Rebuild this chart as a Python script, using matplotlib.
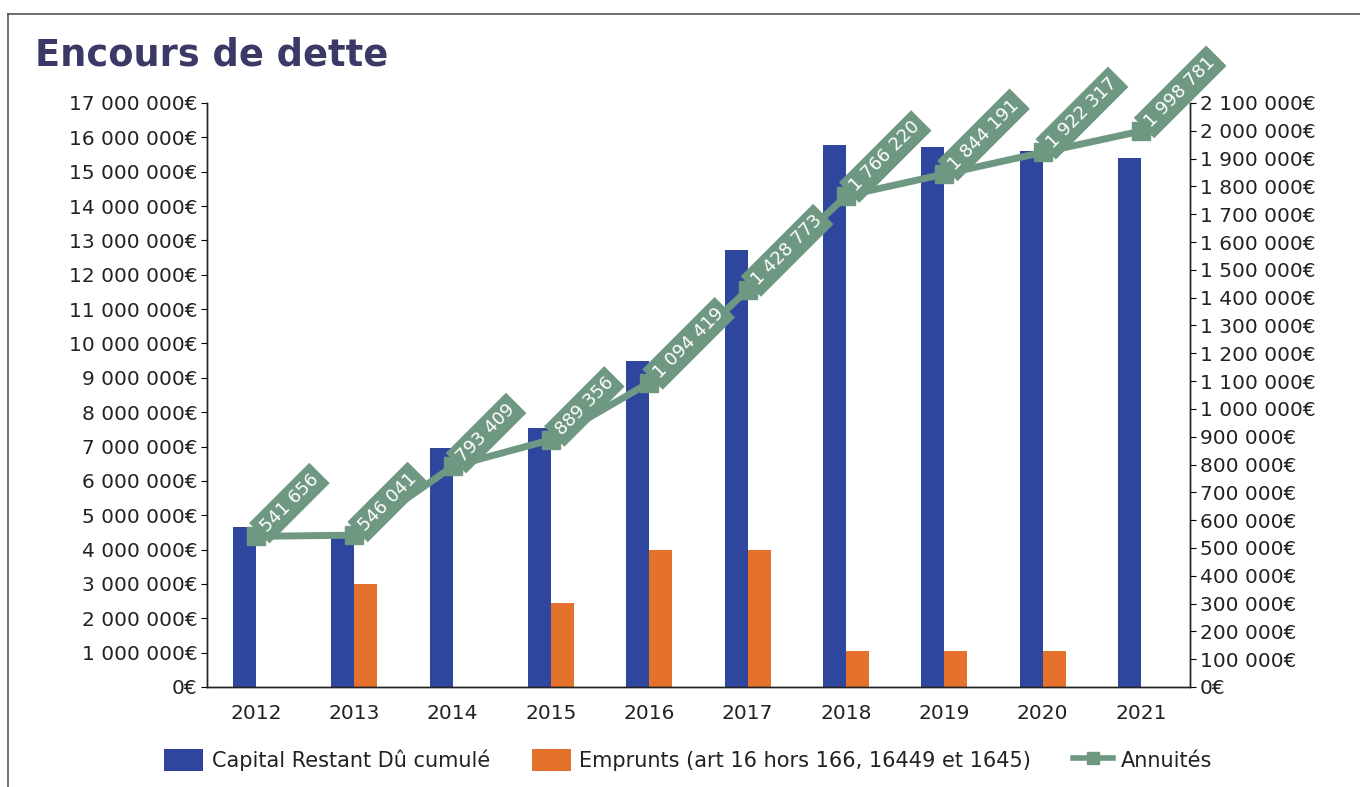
import matplotlib
matplotlib.use("Agg")
import matplotlib.pyplot as plt
import numpy as np
from matplotlib.lines import Line2D
from matplotlib.patches import Patch
from matplotlib.ticker import FixedLocator, FuncFormatter

# Data
years = ["2012", "2013", "2014", "2015", "2016", "2017", "2018", "2019", "2020", "2021"]
capital_restant = [4650000, 4350000, 6950000, 7550000, 9500000, 12730000,
                   15780000, 15720000, 15600000, 15400000]
emprunts = [0, 3000000, 0, 2450000, 4000000, 4000000, 1050000, 1050000, 1050000, 0]
annuites = [541656, 546041, 793409, 889356, 1094419, 1428773,
            1766220, 1844191, 1922317, 1998781]

left_ticks = list(range(0, 17000001, 1000000))
right_ticks = list(range(0, 2100001, 100000))

title = "Encours de dette"
label_capital = "Capital Restant Dû cumulé"
label_emprunts = "Emprunts (art 16 hors 166, 16449 et 1645)"
label_annuites = "Annuités"

# Style
blue = "#2f469e"
orange = "#e5722c"
green = "#6f9882"
title_color = "#3b3966"
text_color = "#222222"

plt.rcParams["font.family"] = ["DejaVu Sans"]

W, H = 1360, 787
fig = plt.figure(figsize=(W / 100, H / 100), dpi=100)
fig.patch.set_facecolor("white")

# thin frame around the panel
fig.add_artist(Line2D([8 / W, 1.0], [1 - 14 / H, 1 - 14 / H], color="#555555", lw=1.2,
                      transform=fig.transFigure))
fig.add_artist(Line2D([8 / W, 8 / W], [0.0, 1 - 14 / H], color="#555555", lw=1.2,
                      transform=fig.transFigure))

ax = fig.add_axes([207 / W, 1 - 687 / H, (1190 - 207) / W, (687 - 103) / H])
ax2 = ax.twinx()

x = np.arange(len(years))
bw = 0.234
ax.bar(x - bw / 2, capital_restant, width=bw, color=blue, zorder=2)
ax.bar(x + bw / 2, emprunts, width=bw, color=orange, zorder=2)

ax.set_xlim(-0.5, len(years) - 0.5)
ax.set_ylim(0, 17000000)
ax2.set_ylim(0, 2100000)

def euro(v, pos=None):
    return f"{int(round(v)):,}".replace(",", " ") + "€"

ax.yaxis.set_major_locator(FixedLocator(left_ticks))
ax.yaxis.set_major_formatter(FuncFormatter(euro))
ax2.yaxis.set_major_locator(FixedLocator(right_ticks))
ax2.yaxis.set_major_formatter(FuncFormatter(euro))

ax.set_xticks(x)
ax.set_xticklabels(years)
ax.tick_params(axis="x", length=0, pad=12, labelsize=14.5, labelcolor=text_color)
ax.tick_params(axis="y", length=4, width=0.8, pad=3, labelsize=14.5, labelcolor=text_color)
ax2.tick_params(axis="y", length=4, width=0.8, pad=3, labelsize=14.5, labelcolor=text_color)

for a in (ax, ax2):
    a.spines["top"].set_visible(False)
    for s in ("left", "right", "bottom"):
        a.spines[s].set_color("#222222")
        a.spines[s].set_linewidth(1.0)

ax2.patch.set_visible(False)
ax2.plot(x, annuites, color=green, lw=5, marker="s", markersize=13,
         markerfacecolor=green, markeredgecolor=green, zorder=4, clip_on=False)

for xi, v in zip(x, annuites):
    ax2.annotate(f"{v:,}".replace(",", " "), xy=(xi, v), xytext=(5, 5),
                 textcoords="offset points", rotation=45, rotation_mode="anchor",
                 ha="left", va="center", color="white", fontsize=13,
                 bbox=dict(boxstyle="square,pad=0.3", facecolor=green, edgecolor="none"),
                 zorder=5, annotation_clip=False)

fig.text(35 / W, 1 - 55 / H, title, fontsize=26.5, fontweight="bold", color=title_color,
         ha="left", va="center")

handles = [
    Patch(facecolor=blue, edgecolor="none", label=label_capital),
    Patch(facecolor=orange, edgecolor="none", label=label_emprunts),
    Line2D([0], [0], color=green, lw=4, marker="s", markersize=8, label=label_annuites),
]
fig.legend(handles=handles, loc="center", bbox_to_anchor=(688 / W, 1 - 760 / H), ncol=3,
           frameon=False, fontsize=15, handlelength=1.9, handleheight=1.3,
           columnspacing=2.0, handletextpad=0.4, labelcolor=text_color)

fig.savefig("out.png", dpi=100, facecolor="white")
